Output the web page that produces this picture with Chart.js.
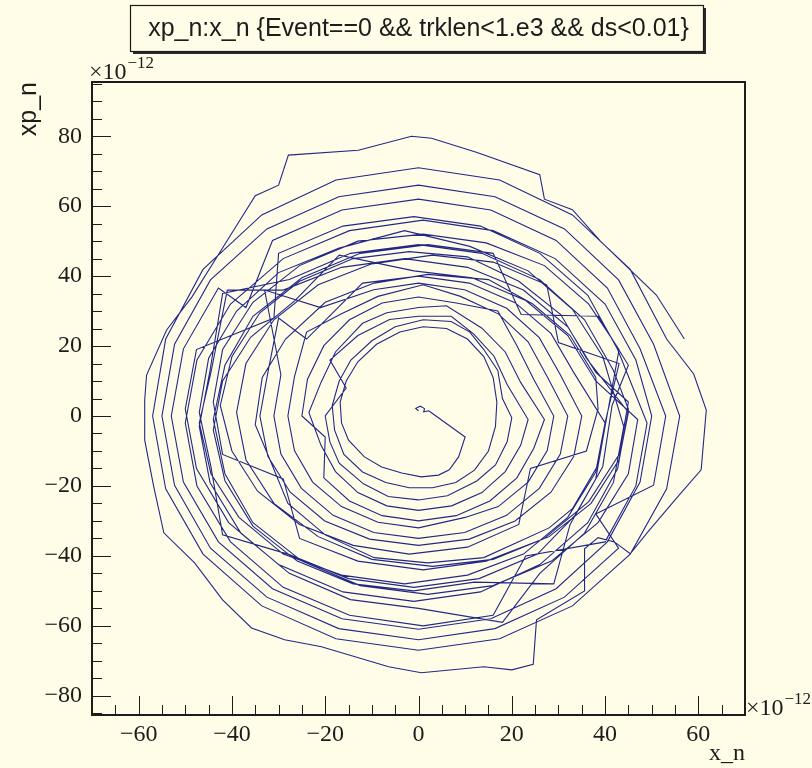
<!DOCTYPE html>
<html>
<head>
<meta charset="utf-8">
<script src="https://cdn.jsdelivr.net/npm/chart.js@4.4.1/dist/chart.umd.min.js"></script>
<style>
  html, body { margin: 0; padding: 0; background: #fffde8; }
  canvas { display: block; }
</style>
</head>
<body>
<canvas id="c" width="812" height="768"></canvas>
<script>
// ---- Chart text ----
const chartTitle = "xp_n:x_n {Event==0 && trklen<1.e3 && ds<0.01}";
const xTitle = "x_n";
const yTitle = "xp_n";
const axisExponent = "\u221212";

// ---- Tick labels ----
const xTickValues = [-60, -40, -20, 0, 20, 40, 60];
const yTickValues = [-80, -60, -40, -20, 0, 20, 40, 60, 80];

// ---- Track (x_n, xp_n) in units of 1e-12, in drawing order ----
const trackStart = [[0,1.5],[-0.6,2.2],[0.4,2.8],[1.3,2.1],[1.1,1.2],[2.2,1.5],[3,0.7],[10,-6]];
const loop01 = [[8.6,-11.7],[6.6,-15.4],[4.3,-16.9],[0.6,-17.4],[-3.6,-16.3],[-7.9,-14.6],[-11.6,-11.7],[-15,-6.9],[-16.5,-2],[-16.8,4],[-15.5,10],[-13,15.5],[-9,20.5],[-4,24],[1,25.5],[6,25],[10.5,22],[14,17],[16,11],[16.8,4]];
const loop02 = [[16.5,-3],[15,-10],[12,-15.5],[8,-19],[3,-20.5],[-2,-20.5],[-7,-19],[-12,-16],[-16,-11],[-18,-4],[-18.5,3],[-17,10],[-14.5,16],[-10,21.5],[-5,25.5],[1,27.5],[7,27],[11,24],[14,19],[17,13],[18,5]];
const loop03 = [[20,-0.5],[19,-7.4],[16.5,-14],[12.5,-18.6],[6.2,-22.8],[0,-24],[-6.5,-23],[-11.8,-19.4],[-17,-13.5],[-19,-7.4],[-20,0],[-15.5,8],[-19,16],[-13,23],[-6.2,27.6],[0,28.5],[7,28.5],[11.8,23.5],[16.2,17.1],[19,9]];
const loop04 = [[23.5,-1],[21.9,-8.4],[18.6,-15.9],[13.6,-21.9],[7.1,-25.7],[0,-27],[-6.8,-25.7],[-13,-21.9],[-17.8,-15.9],[-20.9,-8.4],[-23.5,1],[-20.9,9.6],[-17.8,18.3],[-12,26.5],[-6.8,29.5],[0,31],[6,31.5],[13.6,25.1],[18.6,18.3],[21.9,9.6]];
const loop05 = [[27,-1],[24.7,-9.3],[21.1,-17.7],[15.3,-24.3],[8.1,-28.5],[0,-30],[-7.8,-28.5],[-14.8,-24.3],[-20.3,-17.7],[-20,-6],[-25,0],[-23.8,10.5],[-20.3,20.1],[-14.8,27.5],[-7.8,32.3],[0,34],[8.1,32.3],[17,30],[21.1,20.1],[24.7,10.5]];
const loop06 = [[29,0],[27.6,-9.9],[23.5,-18.9],[17.1,-25.9],[10,-29],[0,-32],[-8.7,-30.4],[-16.5,-25.9],[-22.7,-18.9],[-26.6,-9.9],[-28,0],[-26.6,11.2],[-24,24],[-16.5,29.2],[-8.7,34.2],[1,37.5],[9,34.2],[17.1,29.2],[23.5,21.2],[27.6,11.2]];
const loop07 = [[32,0],[30.4,-10.9],[25.9,-20.7],[18.9,-28.4],[9.9,-33.3],[0,-35],[-9.6,-33.3],[-18.3,-28.4],[-25.1,-20.7],[-29.5,-10.9],[-31,0],[-29.5,11.8],[-33,36],[-21,31],[-9.6,36.1],[0,38],[9.9,36.1],[18.9,30.8],[25.9,22.4],[30.4,11.8]];
const loop08 = [[35,0],[33.3,-11.5],[28.4,-21.8],[20.7,-30],[10.9,-35.2],[0,-37],[-10.5,-35.2],[-20.1,-30],[-27.5,-21.8],[-32.3,-11.5],[-34,0],[-32.3,12.4],[-30,28],[-24,22],[-12,38],[0,40],[10.9,38],[20.7,32.4],[28.4,23.6],[33.3,12.4]];
const loop09 = [[40,-2],[38.5,-14],[33,-26.5],[28,-32],[14,-40.5],[2,-42],[-9.5,-40.5],[-20,-34],[-28,-25],[-32,-12],[-35,-2.5],[-33.5,11],[-28.5,22],[-20,32.5],[-9.5,38],[2,40.5],[15,39],[24.5,32],[32.5,23],[38,11]];
const loop10 = [[38.5,2],[36,-10],[24,-15],[21.5,-31],[10.5,-37.5],[-2,-39.5],[-14,-37],[-25.5,-31],[-34.5,-21.5],[-40,-10],[-42.5,3],[-40,17],[-34,29.5],[-25.5,38.5],[-14,45],[-2,47],[10.5,45.5],[21.5,38.5],[30.5,29],[36,16.5]];
const loop11 = [[45,1],[43,-12.5],[37,-25],[28,-34.5],[16,-41],[3,-43],[-10,-41],[-21.5,-34.5],[-31,-25],[-37,-12.5],[-39,1],[-37,15],[-31,27.5],[-21.5,37.5],[-10,43.5],[3,46],[16,44],[27.5,37.5],[30,21],[43,15]];
const loop12 = [[40,-2],[38,-16],[32,-29],[22.5,-39.5],[10.5,-45.5],[-3,-48],[-16.5,-45.5],[-29,-39.5],[-38.5,-29],[-44.5,-16.5],[-47,-2],[-44.5,12.5],[-41,36],[-29,36],[-16.5,42.5],[-3,45],[10.5,42.5],[22.5,36],[32,25.5],[38,12.5]];
const loop13 = [[45,4],[43,-11],[36.5,-24.5],[27,-35],[14.5,-41.5],[1,-44],[-13,-41.5],[-25.5,-35],[-29,-18],[-42,-11],[-44,4],[-42,19],[-35.5,32.5],[-25.5,43],[-13,50],[1,52],[14.5,49.5],[27,43],[36.5,32],[43,19]];
const loop14 = [[40,-3],[38,-18],[32.5,-31],[29,-48],[12,-47.5],[-1,-50],[-14,-48],[-26,-41.5],[-35.5,-31.5],[-41.5,-18.5],[-44,-4],[-42,10],[-36,22.5],[-26.5,33],[-17,46],[-1,41.5],[11.5,39.5],[23,33],[32,23],[38,10]];
const loop15 = [[47,-1],[45,-16.5],[38.5,-30.5],[28.5,-41.5],[16,-48.5],[2,-51],[-12.5,-48.5],[-25,-41.5],[-35.5,-30.5],[-41.5,-16.5],[-44,-1],[-41.5,14.5],[-35.5,28.5],[-25,39.5],[-12.5,46.5],[2,49],[16,46.5],[22,29],[38.5,28.5],[45,14.5]];
const loop16 = [[41.5,3],[39.5,-14.5],[33.5,-28.5],[25.5,-39.5],[13,-46.5],[-1,-49],[-15,-46.5],[-28,-39.5],[-42,-34],[-44.5,-14.5],[-47,1],[-45,16.5],[-39,30],[-30,41],[-17,48],[-3,53],[11,48.5],[23.5,41.5],[33,30.5],[39.5,17]];
const loop17 = [[44,-3],[41.8,-19],[35.6,-33.5],[26,-45],[18,-59],[0,-55],[-14.6,-52.5],[-27.7,-45],[-38.1,-33.5],[-44.7,-19],[-47,-3],[-44.7,13],[-42,35],[-27.7,39],[-14.6,46.5],[0,49],[13.6,46.5],[26,39],[35.6,27.5],[41.8,13]];
const loop18 = [[45,2],[42.7,-15],[36.3,-30.5],[26,-42.5],[13.3,-50.3],[-1,-53],[-16.2,-50.3],[-30,-42.5],[-40.7,-30.5],[-47.6,-15],[-50,2],[-47.6,19],[-31,28],[-30,46.5],[-16.2,54.3],[-1,57],[13.3,54.3],[26,46.5],[36.3,34.5],[42.7,19]];
const loop19 = [[49,-2],[46.6,-20],[40,-36],[23,-40],[16,-57],[1,-60],[-14.8,-57],[-29,-49],[-40.3,-36],[-47.5,-20],[-50,-2],[-47.5,16],[-40.3,32],[-29,45],[-14.8,53],[1,56],[16,53],[29.3,45],[40,32],[46.6,16]];
const loop20 = [[50,0],[47.5,-18.9],[40.5,-36],[29.5,-49.4],[15.5,-58],[0,-61],[-16.4,-58],[-31.3,-49.4],[-42.9,-36],[-50.4,-18.9],[-53,0],[-50.4,19.2],[-42.9,36.6],[-37,31],[-31.3,50.2],[-16.4,58.9],[0,62],[15.5,58.9],[29.5,50.2],[40.5,36.6],[47.5,19.2]];
const loop21 = [[53,0],[50.4,-19.8],[38,-28],[42.9,-37.8],[31.3,-51.8],[16.4,-60.8],[0,-64],[-17.1,-60.8],[-32.5,-51.8],[-44.6,-37.8],[-52.3,-19.8],[-55,0],[-52.3,20.5],[-44.6,38.9],[-32.5,53.5],[-17.1,62.7],[0,66],[16.4,62.7],[31.3,53.5],[42.9,38.9],[50.4,20.5]];
const loop22 = [[56,0],[53.2,-20.8],[45.4,-39.5],[33,-54.3],[17.4,-63.7],[0,-67],[-17.7,-63.7],[-33.6,-54.3],[-46.2,-39.5],[-54.2,-20.8],[-57,0],[-54.2,22],[-46.2,41.9],[-33.6,57.5],[-17.7,67.5],[0,71],[17.4,67.5],[33,57.5],[45.4,41.9],[53.2,22]];
const loop23 = [[59,12],[61.7,1.7],[60.6,-15.4],[55,-24],[49,-33.4],[45.4,-39.4],[42,-36],[38.5,-34.8],[35.6,-38],[35.6,-50],[25.3,-58.3],[24.6,-71],[20,-72.6],[14,-71.7],[0.6,-73.4],[-6.4,-71.7],[-20.8,-66],[-28.7,-64],[-35.8,-60.6],[-42,-52.6],[-48,-42],[-54.6,-33.4],[-56.8,-20],[-58.7,-6.9],[-58.7,4.6],[-58.3,11.7],[-54,24.6],[-48.6,34],[-40,52.3],[-35,63],[-30,66],[-27.9,74.6],[-12.9,76],[-1.5,80],[2.8,79.4],[12.4,75.4],[26,69],[27,62],[33,59],[39,50],[51,34.6],[57,22]];

const trackPieces = [trackStart, loop01, loop02, loop03, loop04, loop05, loop06, loop07, loop08, loop09, loop10,
  loop11, loop12, loop13, loop14, loop15, loop16, loop17, loop18, loop19, loop20, loop21, loop22, loop23];
const points = [];
trackPieces.forEach(p => p.forEach(([x, y]) => points.push({ x: x, y: y })));

// ---- Style ----
const BG = '#fffde8';
const INK = '#1c1c1c';
const LINE = 'rgb(34,40,134)';
const serif = '"Liberation Serif", "Times New Roman", serif';
const sans = '"Liberation Sans", Arial, Helvetica, sans-serif';

const fmt = v => (v < 0 ? '\u2212' + Math.abs(v) : String(v));

const rootPlugin = {
  id: 'rootStyle',
  beforeDraw(chart) {
    const ctx = chart.ctx;
    ctx.save();
    ctx.fillStyle = BG;
    ctx.fillRect(0, 0, chart.width, chart.height);
    ctx.restore();
  },
  afterDraw(chart) {
    const ctx = chart.ctx;
    const a = chart.chartArea;
    const xs = chart.scales.x, ys = chart.scales.y;
    ctx.save();
    ctx.strokeStyle = INK;
    ctx.lineWidth = 1;
    ctx.beginPath();
    for (let v = xs.min; v <= xs.max + 1e-9; v += 5) {
      const px = Math.round(xs.getPixelForValue(v)) + 0.5;
      const len = (Math.abs(v % 20) < 1e-9) ? 19 : 10;
      ctx.moveTo(px, a.bottom);
      ctx.lineTo(px, a.bottom - len);
    }
    for (let v = Math.ceil(ys.min / 5) * 5; v <= ys.max + 1e-9; v += 5) {
      const py = Math.round(ys.getPixelForValue(v)) + 0.5;
      const len = (Math.abs(v % 20) < 1e-9) ? 19 : 10;
      ctx.moveTo(a.left, py);
      ctx.lineTo(a.left + len, py);
    }
    ctx.stroke();
    ctx.lineWidth = 2;
    ctx.strokeRect(a.left, a.top, a.right - a.left, a.bottom - a.top);

    ctx.fillStyle = INK;
    ctx.textBaseline = 'alphabetic';
    ctx.textAlign = 'left';
    const drawExp = (x, y) => {
      ctx.font = '24px ' + serif;
      const base = '\u00d710';
      ctx.fillText(base, x, y);
      const w = ctx.measureText(base).width;
      ctx.font = '17px ' + serif;
      ctx.fillText(axisExponent, x + w + 1, y - 11);
    };
    drawExp(a.left - 3, a.top - 3);
    drawExp(a.right + 1, a.bottom);

    const bx = 130, by = 5, bw = 573, bh = 46;
    ctx.fillStyle = '#2a2a2a';
    ctx.fillRect(bx + 3, by + 3, bw, bh);
    ctx.fillStyle = BG;
    ctx.fillRect(bx, by, bw, bh);
    ctx.strokeStyle = INK;
    ctx.lineWidth = 1.2;
    ctx.strokeRect(bx + 0.5, by + 0.5, bw, bh);
    ctx.fillStyle = INK;
    ctx.font = '25px ' + sans;
    ctx.textAlign = 'center';
    ctx.textBaseline = 'middle';
    ctx.fillText(chartTitle, bx + bw / 2 + 2, by + bh / 2 + 1);
    ctx.restore();
  }
};

new Chart(document.getElementById('c'), {
  type: 'scatter',
  data: {
    datasets: [{
      data: points,
      showLine: true,
      borderColor: LINE,
      borderWidth: 1.1,
      pointRadius: 0,
      tension: 0,
      fill: false
    }]
  },
  plugins: [rootPlugin],
  options: {
    responsive: false,
    animation: false,
    layout: { padding: { top: 82, right: 67, left: 0, bottom: 0 } },
    plugins: { legend: { display: false }, tooltip: { enabled: false }, title: { display: false } },
    scales: {
      x: {
        type: 'linear', min: -70, max: 70,
        afterBuildTicks: s => { s.ticks = xTickValues.map(v => ({ value: v })); },
        afterFit: s => { s.height = 53; },
        grid: { display: false, drawTicks: false },
        border: { display: false },
        ticks: { font: { family: serif, size: 24 }, color: INK, padding: 5, maxRotation: 0, autoSkip: false, callback: v => fmt(v) },
        title: { display: true, text: xTitle, align: 'end', color: INK, font: { family: serif, size: 24 }, padding: { top: 0, bottom: 0 } }
      },
      y: {
        type: 'linear', min: -85.5, max: 95.5,
        afterBuildTicks: s => { s.ticks = yTickValues.map(v => ({ value: v })); },
        afterFit: s => { s.width = 92; },
        grid: { display: false, drawTicks: false },
        border: { display: false },
        ticks: { font: { family: serif, size: 24 }, color: INK, padding: 10, autoSkip: false, callback: v => fmt(v) },
        title: { display: true, text: yTitle, align: 'end', color: INK, font: { family: sans, size: 25 }, padding: { top: 14, bottom: 0 } }
      }
    }
  }
});
</script>
</body>
</html>
